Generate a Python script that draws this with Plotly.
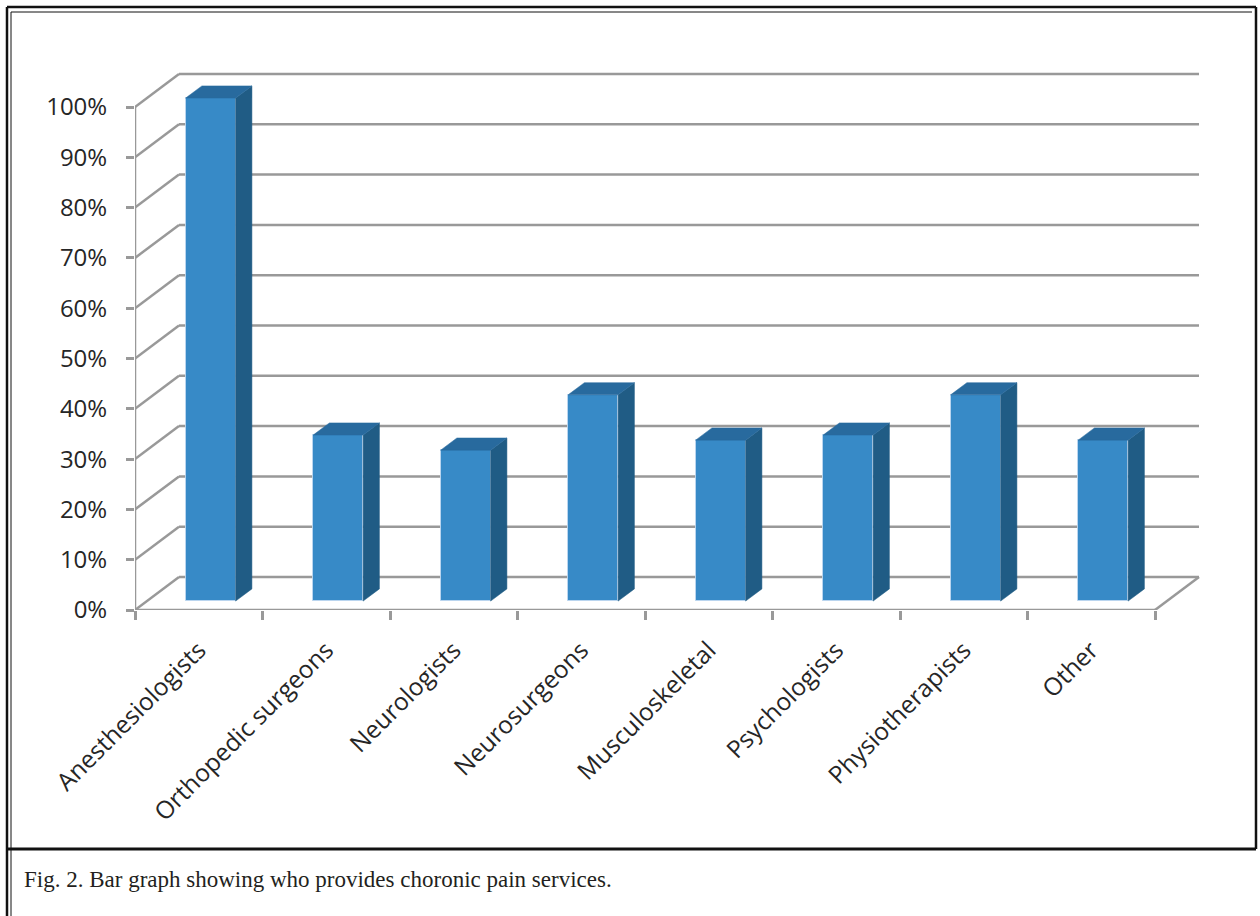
import plotly.graph_objects as go

# ---- data ----
categories = ["Anesthesiologists", "Orthopedic surgeons", "Neurologists", "Neurosurgeons",
              "Musculoskeletal", "Psychologists", "Physiotherapists", "Other"]
values = [100, 33, 30, 41, 32, 33, 41, 32]
y_ticks = [0, 10, 20, 30, 40, 50, 60, 70, 80, 90, 100]
y_tick_labels = [f"{t}%" for t in y_ticks]
caption = "Fig. 2. Bar graph showing who provides choronic pain services."

# ---- layout geometry (pixels) ----
W, H = 1260, 916
ML, MR, MT, MB = 135, 50, 60, 306
PX_PER_CAT = 127.5
PX_PER_PCT = 5.03
PW, PH = W - ML - MR, H - MT - MB
XMAX = PW / PX_PER_CAT
YMAX = PH / PX_PER_PCT
DX = 44 / PX_PER_CAT        # depth offset in x units
DY = 33 / PX_PER_PCT        # depth offset in y units
F1, F2 = 0.27, 0.64          # bar front/back depth fractions
HALF_W = 25 / PX_PER_CAT

GRID = "#999999"
FRONT = "rgb(55,138,199)"
TOP = "rgb(40,106,158)"
SIDE = "rgb(32,92,133)"

n = len(categories)
fig = go.Figure()

shapes = []
# back-wall gridlines + left wall diagonals
for t in y_ticks:
    shapes.append(dict(type="line", xref="x", yref="y", x0=DX, x1=n + DX, y0=t + DY, y1=t + DY,
                       line=dict(color=GRID, width=2.5), layer="below"))
    shapes.append(dict(type="line", xref="x", yref="y", x0=0, x1=DX, y0=t, y1=t + DY,
                       line=dict(color=GRID, width=2.5), layer="below"))
# floor front edge and right edge
shapes.append(dict(type="line", xref="x", yref="y", x0=0, x1=n, y0=0, y1=0,
                   line=dict(color=GRID, width=2.5), layer="below"))
shapes.append(dict(type="line", xref="x", yref="y", x0=n, x1=n + DX, y0=0, y1=DY,
                   line=dict(color=GRID, width=2.5), layer="below"))
# vertical axis line
shapes.append(dict(type="line", xref="x", yref="y", x0=0, x1=0, y0=0, y1=y_ticks[-1],
                   line=dict(color=GRID, width=2.5), layer="below"))

# front faces as bars
centers = [i + 0.5 for i in range(n)]
fig.add_trace(go.Bar(
    x=[c + F1 * DX for c in centers], y=values, base=[F1 * DY] * n,
    width=2 * HALF_W, marker=dict(color=FRONT, line=dict(color="rgba(190,215,240,0.9)", width=1)),
    hoverinfo="skip", showlegend=False))

# side and top faces computed from the values
for c, v in zip(centers, values):
    xr1 = c + HALF_W + F1 * DX
    xr2 = c + HALF_W + F2 * DX
    fig.add_trace(go.Scatter(
        x=[xr1, xr2, xr2, xr1, xr1],
        y=[F1 * DY, F2 * DY, v + F2 * DY, v + F1 * DY, F1 * DY],
        fill="toself", fillcolor=SIDE, mode="lines", line=dict(color=SIDE, width=0.5),
        hoverinfo="skip", showlegend=False))
    xl1 = c - HALF_W + F1 * DX
    xl2 = c - HALF_W + F2 * DX
    fig.add_trace(go.Scatter(
        x=[xl1, xr1, xr2, xl2, xl1],
        y=[v + F1 * DY, v + F1 * DY, v + F2 * DY, v + F2 * DY, v + F1 * DY],
        fill="toself", fillcolor=TOP, mode="lines", line=dict(color=TOP, width=0.5),
        hoverinfo="skip", showlegend=False))

# frame and caption (pixel -> paper helpers)
def px(xp):
    return (xp - ML) / PW

def py(yp):
    return (H - MB - yp) / PH

frame = [
    # outer thick border
    (7, 7, 1256, 7, 2.5), (7, 7, 7, 916, 2.5), (1256, 7, 1256, 849, 2.5),
    # inner thin border
    (11, 12, 1252, 12, 1), (11, 12, 11, 916, 1),
    # separator above caption
    (7, 849, 1256, 849, 3),
]
for x0, y0, x1, y1, w in frame:
    shapes.append(dict(type="line", xref="paper", yref="paper", x0=px(x0), x1=px(x1),
                       y0=py(y0), y1=py(y1), line=dict(color="#111111", width=w), layer="above"))

fig.add_annotation(text=caption, xref="paper", yref="paper", x=px(22), y=py(879),
                   xanchor="left", yanchor="middle", showarrow=False,
                   font=dict(family="Liberation Serif", size=23, color="#231f20"))

fig.update_layout(
    width=W, height=H, margin=dict(l=ML, r=MR, t=MT, b=MB),
    paper_bgcolor="white", plot_bgcolor="white", shapes=shapes,
    bargap=0, showlegend=False,
    font=dict(family="Open Sans", size=24, color="#262626"),
)
fig.update_xaxes(range=[0, XMAX], tickvals=centers, ticktext=categories, tickangle=-45,
                 ticks="", showgrid=False, zeroline=False, showline=False,
                 ticklabelstandoff=20,
                 minor=dict(tickvals=list(range(n + 1)), ticks="outside", ticklen=9,
                            tickwidth=2.5, tickcolor=GRID, showgrid=False),
                 tickfont=dict(family="Open Sans", size=24.5, color="#262626"))
fig.update_yaxes(range=[0, YMAX], tickvals=y_ticks, ticktext=y_tick_labels,
                 ticks="outside", ticklen=8, tickwidth=2.5, tickcolor=GRID,
                 showgrid=False, zeroline=False, showline=False, ticklabelstandoff=14,
                 tickfont=dict(family="Open Sans", size=24, color="#262626"))

fig.write_html("out.html")
